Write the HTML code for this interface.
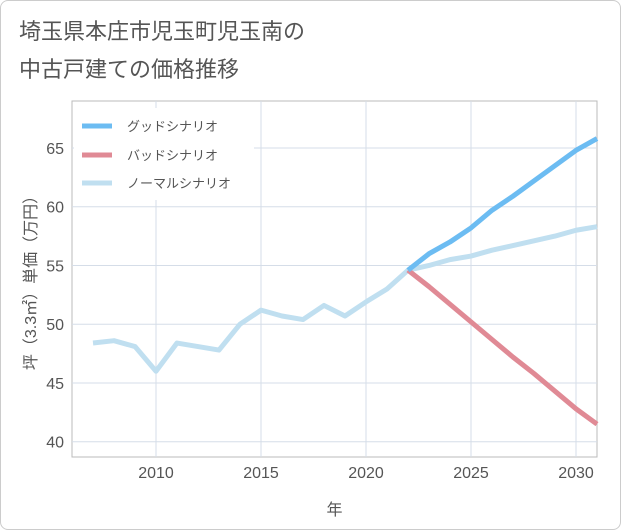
<!DOCTYPE html>
<html><head><meta charset="utf-8"><style>
body{margin:0;background:#fff;}
#wrap{position:relative;width:619px;height:528px;border:1px solid #ccc;border-radius:8px;background:#fff;overflow:hidden;font-family:"Liberation Sans","Noto Sans CJK JP",sans-serif;}
.title{position:absolute;left:18px;font-size:22px;color:#555;line-height:1;}
</style></head><body>
<div id="wrap">
<div class="title" style="top:20px">埼玉県本庄市児玉町児玉南の</div>
<div class="title" style="top:58px">中古戸建ての価格推移</div>
<svg id="chart" width="621" height="530" style="position:absolute;left:-1px;top:-1px"></svg>
</div>
<script>
const years=[2007,2008,2009,2010,2011,2012,2013,2014,2015,2016,2017,2018,2019,2020,2021,2022,2023,2024,2025,2026,2027,2028,2029,2030,2031];
const normalVals=[48.4,48.6,48.1,46.0,48.4,48.1,47.8,50.0,51.2,50.7,50.4,51.6,50.7,51.9,53.0,54.6,55.0,55.5,55.8,56.3,56.7,57.1,57.5,58.0,58.3];
const futureYears=[2022,2023,2024,2025,2026,2027,2028,2029,2030,2031];
const goodVals=[54.6,56.0,57.0,58.2,59.7,60.9,62.2,63.5,64.8,65.8];
const badVals=[54.6,53.2,51.7,50.2,48.7,47.2,45.8,44.3,42.8,41.5];
const xTicks=[2010,2015,2020,2025,2030];
const yTicks=[40,45,50,55,60,65];
const L=72,R=597,T=101,B=457,X0=2006,X1=2031,Y0=38.7,Y1=69;
const sx=v=>L+(v-X0)/(X1-X0)*(R-L);
const sy=v=>B-(v-Y0)/(Y1-Y0)*(B-T);
const svg=document.getElementById('chart');
const NS='http://www.w3.org/2000/svg';
function mk(t,a,p){const e=document.createElementNS(NS,t);for(const k in a)e.setAttribute(k,a[k]);(p||svg).appendChild(e);return e;}
let bg=mk('rect',{x:L,y:T,width:R-L,height:B-T,fill:'#fff',stroke:'#bbb'});


xTicks.forEach(v=>{
 let g=mk('line',{x1:sx(v),x2:sx(v),y1:T,y2:B,stroke:'#d5dde8'});
 
 
 let t=mk('text',{x:sx(v),y:478,'text-anchor':'middle','font-size':16,fill:'#555'});t.textContent=v;
 
 
});
yTicks.forEach(v=>{
 let g=mk('line',{x1:L,x2:R,y1:sy(v),y2:sy(v),stroke:'#d5dde8'});
 
 
 let t=mk('text',{x:64,y:sy(v)+6,'text-anchor':'end','font-size':16,fill:'#555'});t.textContent=v;
 
 
});
let xt=mk('text',{x:(L+R)/2,y:515,'text-anchor':'middle','font-size':16,fill:'#555'});xt.textContent='年';


let yt=mk('text',{x:0,y:0,'text-anchor':'middle','font-size':16,fill:'#555',transform:'translate(36,'+((T+B)/2)+') rotate(-90)'});yt.textContent='坪（3.3㎡）単価（万円）';


function line(xs,ys,c,name){
 const d=xs.map((x,i)=>(i?'L':'M')+sx(x)+','+sy(ys[i])).join('');
 let p=mk('path',{d:d,fill:'none',stroke:c,'stroke-width':5,'stroke-linejoin':'round'});
 
 
}
line(years,normalVals,'#c0dff0','normal-scenario-line');
line(futureYears,badVals,'#e08a95','bad-scenario-line');
line(futureYears,goodVals,'#6cbcf2','good-scenario-line');
let lg=mk('rect',{x:74,y:108,width:180,height:92,fill:'#fff'});


[['グッドシナリオ','#6cbcf2',126],['バッドシナリオ','#e08a95',155],['ノーマルシナリオ','#c0dff0',183]].forEach(([n,c,y])=>{
 let l=mk('line',{x1:82,x2:112,y1:y,y2:y,stroke:c,'stroke-width':5});
 
 
 let t=mk('text',{x:127,y:y+5,'font-size':13,fill:'#555'});t.textContent=n;
 
 
});
</script>
</body></html>
